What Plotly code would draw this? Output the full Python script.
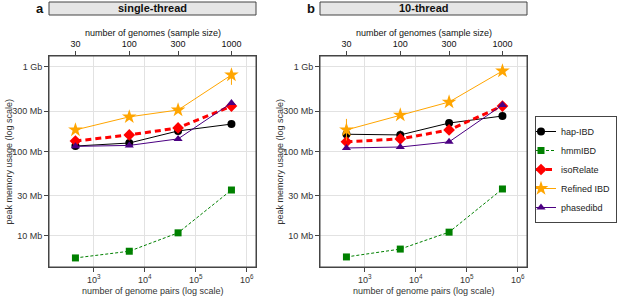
import plotly.graph_objects as go

# ---------------- data ----------------
sample_sizes = [30, 100, 300, 1000]
genome_pairs = [435, 4950, 44850, 499500]          # n(n-1)/2
methods = ["hap-IBD", "hmmIBD", "isoRelate", "Refined IBD", "phasedibd"]

# peak memory in MB, single-thread
single_hapibd = [116, 126, 175, 211]
single_hmmibd = [5.5, 6.6, 10.9, 35]
single_isorelate = [133, 157, 190, 345]
single_refined = [180, 257, 310, 805]
single_phasedibd = [115, 118, 141, 375]

# peak memory in MB, 10-thread
multi_hapibd = [160, 157, 217, 263]
multi_hmmibd = [5.65, 7.0, 11.1, 36]
multi_isorelate = [130, 141, 180, 345]
multi_refined = [180, 270, 385, 897]
multi_phasedibd = [110, 113, 130, 355]

# error bars (MB)
single_refined_err_plus = [0, 0, 0, 40]
single_refined_err_minus = [0, 0, 0, 190]
multi_refined_err_plus = [63, 0, 0, 80]
multi_refined_err_minus = [45, 0, 0, 60]
multi_hapibd_err_plus = [25, 20, 0, 0]
multi_hapibd_err_minus = [10, 10, 0, 0]

y_tickvals = [10, 30, 100, 300, 1000]
y_ticktext = ["10 Mb", "30 Mb", "100 Mb", "300 Mb", "1 Gb"]
x_tickvals = [1e3, 1e4, 1e5, 1e6]
x_ticktext = ["10<sup>3</sup>", "10<sup>4</sup>", "10<sup>5</sup>", "10<sup>6</sup>"]
panel_titles = ["single-thread", "10-thread"]
panel_letters = ["a", "b"]
x_title = "number of genome pairs (log scale)"
x_top_title = "number of genomes (sample size)"
y_title = "peak memory usage (log scale)"

# ---------------- style ----------------
FONT = "Arial, Liberation Sans, sans-serif"
W, H = 617, 298
styles = {
    "hap-IBD": dict(color="black", symbol="circle", size=8, dash="solid", width=1),
    "hmmIBD": dict(color="#008000", symbol="square", size=7, dash="3px,2px", width=1),
    "isoRelate": dict(color="#FF0000", symbol="diamond", size=9, dash="6px,4px", width=3),
    "Refined IBD": dict(color="#FFA500", symbol="star", size=11, dash="solid", width=1),
    "phasedibd": dict(color="#4B0082", symbol="triangle-up", size=8, dash="solid", width=1),
}

panels = [
    dict(values={"hap-IBD": single_hapibd, "hmmIBD": single_hmmibd, "isoRelate": single_isorelate,
                 "Refined IBD": single_refined, "phasedibd": single_phasedibd},
         errs={"Refined IBD": (single_refined_err_plus, single_refined_err_minus)}),
    dict(values={"hap-IBD": multi_hapibd, "hmmIBD": multi_hmmibd, "isoRelate": multi_isorelate,
                 "Refined IBD": multi_refined, "phasedibd": multi_phasedibd},
         errs={"Refined IBD": (multi_refined_err_plus, multi_refined_err_minus),
               "hap-IBD": (multi_hapibd_err_plus, multi_hapibd_err_minus)}),
]

px_x = [(49, 256), (320, 527)]
py_top, py_bot = 56, 267

fig = go.Figure()
layout = dict(width=W, height=H, margin=dict(l=0, r=0, t=0, b=0, autoexpand=False),
              paper_bgcolor="white", plot_bgcolor="white",
              font=dict(family=FONT, size=9, color="#222"))

x_range = [2.12, 6.18]
y_range = [0.633, 3.13]
shapes, annotations = [], []

def ann(x, y, text, size=9, color="#222", angle=0, xa="center", ya="middle"):
    annotations.append(dict(xref="paper", yref="paper", x=x / W, y=1 - y / H, text=text,
                            showarrow=False, font=dict(size=size, color=color),
                            textangle=angle, xanchor=xa, yanchor=ya))

for i, p in enumerate(panels):
    xb = "x" if i == 0 else "x3"
    xt = "x2" if i == 0 else "x4"
    yy = "y" if i == 0 else "y2"
    xbk = "xaxis" if i == 0 else "xaxis3"
    xtk = "xaxis2" if i == 0 else "xaxis4"
    yk = "yaxis" if i == 0 else "yaxis2"
    dom = [px_x[i][0] / W, px_x[i][1] / W]
    ydom = [1 - py_bot / H, 1 - py_top / H]

    for m in methods:
        s = styles[m]
        err = p["errs"].get(m)
        ed = None
        if err:
            ed = dict(type="data", symmetric=False, array=err[0], arrayminus=err[1],
                      color=s["color"], thickness=1, width=0)
        fig.add_trace(go.Scatter(
            x=genome_pairs, y=p["values"][m], name=m, mode="lines+markers",
            xaxis=xb, yaxis=yy, showlegend=(i == 0), legendgroup=m,
            line=dict(color=s["color"], dash=s["dash"], width=s["width"]),
            marker=dict(symbol=s["symbol"], size=s["size"], color=s["color"],
                        line=dict(width=0)),
            error_y=ed, cliponaxis=False))
    # invisible trace so the sample-size axis is drawn
    fig.add_trace(go.Scatter(x=genome_pairs, y=p["values"]["hap-IBD"], xaxis=xt, yaxis=yy,
                             mode="markers", marker=dict(opacity=0), showlegend=False,
                             hoverinfo="skip"))

    common = dict(type="log", range=x_range, domain=dom, showline=True, linecolor="#444",
                  linewidth=1, ticks="outside", ticklen=4, tickcolor="#444",
                  tickfont=dict(size=9, color="#333"), zeroline=False, automargin=False)
    layout[xbk] = dict(common, anchor=yy, tickvals=x_tickvals, ticktext=x_ticktext,
                       showgrid=True, gridcolor="#e2e2e2", gridwidth=1)
    layout[xtk] = dict(common, side="top", overlaying=xb, anchor=yy,
                       tickvals=genome_pairs, ticktext=[str(v) for v in sample_sizes],
                       showgrid=False, tickfont=dict(size=9, color="#111"))
    layout[yk] = dict(type="log", range=y_range, domain=ydom, anchor=xb, showline=True,
                      linecolor="#444", linewidth=1, mirror=True, ticks="outside",
                      ticklen=4, tickcolor="#444", tickvals=y_tickvals, ticktext=y_ticktext,
                      tickfont=dict(size=9, color="#333"), showgrid=True,
                      gridcolor="#e2e2e2", gridwidth=1, zeroline=False, automargin=False)
    x0, x1 = px_x[i]
    # border box
    shapes.append(dict(type="rect", xref="paper", yref="paper", x0=dom[0], x1=dom[1],
                       y0=ydom[0], y1=ydom[1], line=dict(color="#444", width=1),
                       fillcolor="rgba(0,0,0,0)", layer="above"))
    # strip
    shapes.append(dict(type="rect", xref="paper", yref="paper", x0=dom[0], x1=dom[1],
                       y0=1 - 15 / H, y1=1 - 2 / H, line=dict(color="#444", width=1),
                       fillcolor="#e6e6e6", layer="below"))
    ann((x0 + x1) / 2, 8.5, "<b>" + panel_titles[i] + "</b>", size=11, color="#111")
    ann(x0 - 9, 8.5, "<b>" + panel_letters[i] + "</b>", size=13, color="#111")
    # axis titles
    ann((x0 + x1) / 2, 33, x_top_title, size=9, color="#111")
    ann((x0 + x1) / 2, 291, x_title, size=9, color="#333")
    ann(x0 - 41, (py_top + py_bot) / 2, y_title, size=9, color="#333", angle=-90)

layout["shapes"] = shapes
layout["annotations"] = annotations
layout["legend"] = dict(x=1, y=1 - 116 / H, xanchor="right", yanchor="top",
                        bordercolor="#444", borderwidth=1, bgcolor="white",
                        font=dict(size=9, color="#222"), tracegroupgap=0,
                        itemwidth=30, indentation=-15)
fig.update_layout(**layout)
fig.write_html("out.html", config={"displayModeBar": False},
               post_script="document.body.style.margin='0px';"
                           "document.body.style.overflow='hidden';")
